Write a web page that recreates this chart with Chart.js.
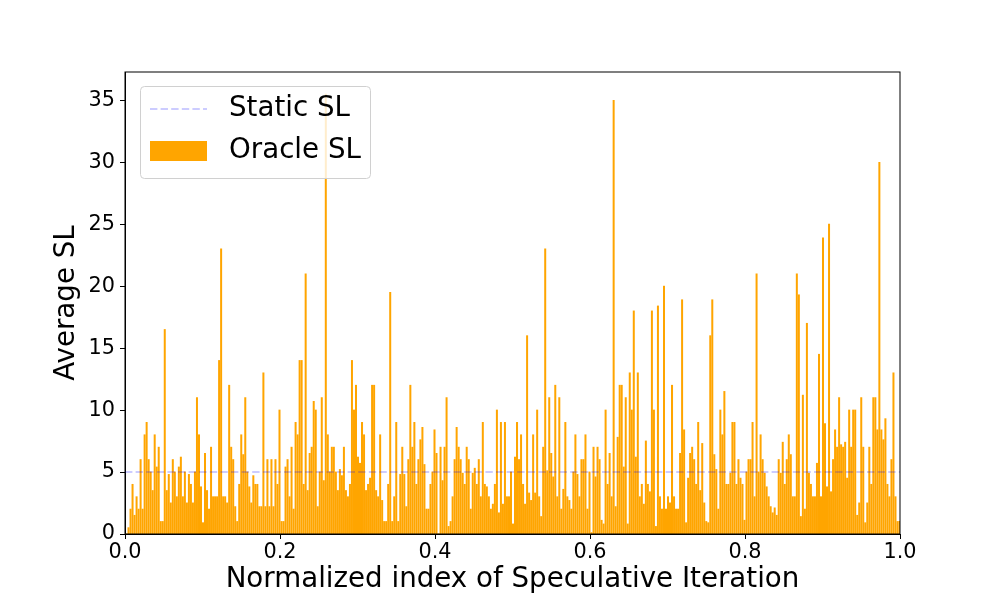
<!DOCTYPE html>
<html>
<head>
<meta charset="utf-8">
<script src="https://cdn.jsdelivr.net/npm/chart.js@4.4.0/dist/chart.umd.min.js"></script>
<style>
  body { margin: 0; background: #fff; }
  #wrap { width: 1000px; height: 600px; }
</style>
</head>
<body>
<div id="wrap"><canvas id="myChart"></canvas></div>
<script>
// Oracle SL per speculative iteration (left to right)
const oracleSL = [
  0, 0.5, 2, 4, 1.5, 3, 2, 6, 2, 8,
  9, 6, 5, 3.5, 8, 5.4, 7, 1, 1, 16.5,
  3.5, 4.8, 2.5, 6, 5, 3, 5.4, 6.2, 3, 5,
  2.5, 4.8, 4, 2.5, 5, 11, 8, 3.8, 0.9, 6.5,
  3.5, 2, 7, 3, 3, 3, 14, 23, 3, 3,
  2.5, 12, 7, 6, 2.2, 1, 4, 8, 6.4, 11,
  5, 3.8, 2.5, 4.7, 4, 4, 2.2, 2.2, 13, 2.2,
  6, 2.2, 6, 2.2, 6, 4, 10, 1, 1, 5.4,
  6, 3, 7, 2, 9, 8, 14, 14, 4, 21,
  3.5, 6.5, 7, 10.7, 10, 2.2, 5, 11, 4.3, 35.5,
  8, 5, 7, 7, 5, 3.5, 5.2, 4.7, 7, 3.5,
  3, 4, 14, 10, 12, 6.2, 5.7, 9, 8, 3.5,
  4, 4.5, 12, 12, 3.5, 3, 8, 2.7, 1, 1,
  4, 19.5, 1, 3, 9, 1, 4.8, 7, 4.8, 2.2,
  6, 12, 7, 9, 4, 6, 7.6, 8.6, 5.6, 2,
  2, 4, 5, 8.4, 6.5, 0, 7, 4.3, 7, 11,
  0.6, 1, 3, 6, 8.6, 7, 6, 4.9, 4, 7,
  6, 2, 4.9, 5.3, 4, 6, 3, 9, 4, 3.8,
  3, 2, 2.4, 4, 10, 1.7, 9, 2.4, 9, 3,
  3, 5, 0.8, 6.2, 9, 6, 8, 4, 2.4, 16,
  3.3, 2.7, 8, 3.3, 10, 3, 1.4, 7, 23, 5.1,
  11, 6.5, 4.6, 12, 3, 11, 2, 3.6, 9, 3,
  2.7, 2, 5, 8, 4.8, 3, 6, 6, 8, 2,
  5, 0.1, 7, 4.6, 7, 6, 1.1, 0.8, 10, 4,
  6.5, 3, 35, 2.2, 7.8, 12, 12, 5.4, 11, 0.8,
  13, 10, 18, 6.2, 13, 3, 4, 2.4, 7.5, 4,
  3.4, 18, 10, 0.6, 18.4, 3, 2, 20, 2, 3,
  2.5, 12, 3, 2, 2, 6.5, 18.9, 8.4, 0.9, 4.5,
  6.5, 7, 6, 4, 9, 3.5, 7.3, 2.5, 1, 0.9,
  16, 18.9, 6.4, 5.2, 2, 10, 8, 11.5, 4, 4,
  4.9, 9, 9, 4, 6, 4.5, 4, 1.1, 5, 6,
  6, 9, 3, 21, 5, 8, 6, 4.9, 3.8, 3,
  2.2, 1.7, 2.1, 1.5, 6, 4.9, 7.4, 4, 6, 8,
  6.4, 3, 3, 21, 19.3, 1.4, 11.2, 2, 17, 4.9,
  4, 3, 3, 5.7, 14.5, 3, 23.9, 8.9, 3.8, 25,
  3.4, 6, 8.4, 7, 11, 7.2, 7, 7.4, 4.5, 10,
  7, 10, 10, 1.5, 2.5, 11, 7, 0.9, 2.5, 7,
  4, 11, 11, 8.4, 30, 8.4, 7.6, 9.3, 4, 3,
  6, 13, 3, 1, 1
];
const iterations = oracleSL.map((v, i) => i); // one category per iteration
const staticSL = 5;
const xTicks = [0, 0.2, 0.4, 0.6, 0.8, 1.0];
const yTicks = [0, 5, 10, 15, 20, 25, 30, 35];

const FONT = "'DejaVu Sans', sans-serif";

// spines on all four sides like matplotlib
const frame = {
  id: "frame",
  afterDatasetsDraw(chart) {
    const { ctx, chartArea: a } = chart;
    ctx.save();
    ctx.strokeStyle = "#000";
    ctx.lineWidth = 1;
    ctx.strokeRect(a.left, a.top, a.right - a.left, a.bottom - a.top);
    ctx.restore();
  },
};

// matplotlib style legend box, upper left
const legendBox = {
  id: "legendBox",
  afterDraw(chart) {
    const ctx = chart.ctx;
    const ds = chart.data.datasets;
    ctx.save();
    const x = 140.5, y = 86.5, w = 230, h = 92, r = 4;
    ctx.beginPath();
    ctx.roundRect(x, y, w, h, r);
    ctx.fillStyle = "rgba(255,255,255,0.8)";
    ctx.fill();
    ctx.strokeStyle = "#d0d0d0";
    ctx.lineWidth = 1;
    ctx.stroke();

    // Static SL handle
    ctx.beginPath();
    ctx.setLineDash([7.4, 3.2]);
    ctx.strokeStyle = ds[0].borderColor;
    ctx.lineWidth = 2;
    ctx.moveTo(150, 109);
    ctx.lineTo(207, 109);
    ctx.stroke();
    ctx.setLineDash([]);

    // Oracle SL handle
    ctx.fillStyle = ds[1].backgroundColor;
    ctx.fillRect(150, 141, 57, 20);

    ctx.fillStyle = "#000";
    ctx.font = "27.7px " + FONT;
    ctx.textBaseline = "middle";
    ctx.textAlign = "left";
    ctx.fillText(ds[0].label, 229, 109);
    ctx.fillText(ds[1].label, 229, 151);
    ctx.restore();
  },
};

const ctx = document.getElementById("myChart").getContext("2d");
new Chart(ctx, {
  type: "bar",
  data: {
    labels: iterations,
    datasets: [
      {
        type: "line",
        label: "Static SL",
        xAxisID: "x2",
        data: [{ x: 0, y: staticSL }, { x: 1, y: staticSL }],
        borderColor: "rgba(0,0,255,0.2)",
        borderWidth: 2,
        borderDash: [7.4, 3.2],
        pointRadius: 0,
        fill: false,
        order: 0,
      },
      {
        label: "Oracle SL",
        xAxisID: "x",
        data: oracleSL,
        backgroundColor: "#FFA500",
        borderWidth: 0,
        inflateAmount: 0.5,
        categoryPercentage: 1,
        barPercentage: 1,
        order: 1,
      },
    ],
  },
  options: {
    responsive: true,
    maintainAspectRatio: false,
    animation: false,
    layout: { padding: { top: 72, right: 100, left: 0, bottom: 0 } },
    plugins: {
      legend: { display: false },
      tooltip: { enabled: false },
    },
    scales: {
      x: { type: "category", display: false, offset: true },
      x2: {
        type: "linear",
        position: "bottom",
        min: 0,
        max: 1,
        offset: false,
        afterFit: (s) => { s.height = 66; },
        afterBuildTicks: (s) => { s.ticks = xTicks.map((v) => ({ value: v })); },
        grid: { drawOnChartArea: false, drawTicks: true, tickLength: 5, color: "#000", offset: false },
        border: { display: true, color: "#000" },
        ticks: {
          color: "#000",
          font: { size: 20.8, family: FONT },
          padding: 1,
          maxRotation: 0,
          callback: (v) => Number(v).toFixed(1),
        },
        title: {
          display: true,
          text: "Normalized index of Speculative Iteration",
          color: "#000",
          font: { size: 27.7, family: FONT },
          padding: { top: 0, bottom: 4 },
        },
      },
      y: {
        min: 0,
        max: 37.3,
        afterFit: (s) => { s.width = 125; },
        afterBuildTicks: (s) => { s.ticks = yTicks.map((v) => ({ value: v })); },
        grid: { drawOnChartArea: false, drawTicks: true, tickLength: 5, color: "#000" },
        border: { display: true, color: "#000" },
        ticks: {
          color: "#000",
          font: { size: 20.8, family: FONT },
          padding: 5,
        },
        title: {
          display: true,
          text: "Average SL",
          color: "#000",
          font: { size: 27.7, family: FONT },
          padding: { top: 50, bottom: 0 },
        },
      },
    },
  },
  plugins: [frame, legendBox],
});
</script>
</body>
</html>
